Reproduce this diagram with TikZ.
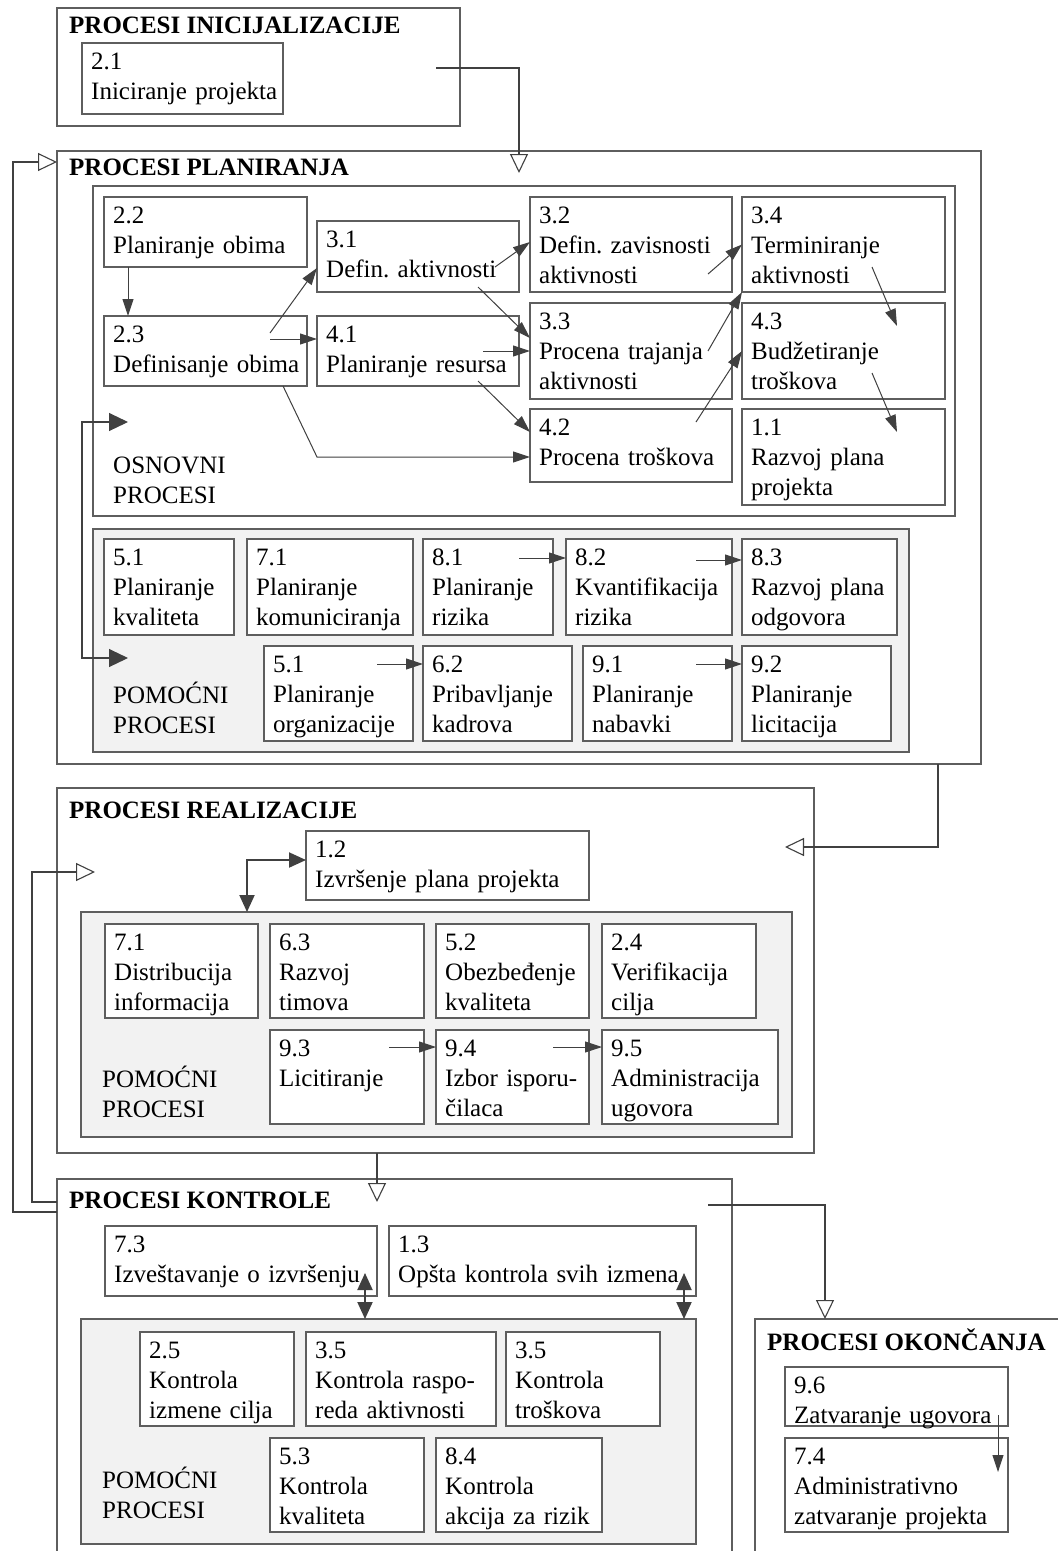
\documentclass[tikz,border=0pt]{standalone}
\usepackage{fontspec}
\setmainfont{Liberation Serif}
\frenchspacing
\usetikzlibrary{arrows.meta,fit}
\definecolor{edge}{HTML}{5E5E5E}
\definecolor{wire}{HTML}{404040}
\definecolor{shade}{HTML}{F2F2F2}
% rectangle node spanning two corners: style, name, x1, y1, x2, y2
\newcommand\boxat[6]{\path (#3,#4) coordinate (#2-nw) (#5,#6) coordinate (#2-se);
  \node[#1,fit=(#2-nw)(#2-se)] (#2) {};}
% process box with its number and name: name, x1, y1, x2, y2, text
\newcommand\proc[6]{\boxat{pbox}{#1}{#2}{#3}{#4}{#5}
  \node[lbl] (#1-t) at ([shift={(9pt,-26pt)}]#1.north west) {#6};}
\begin{document}
\begin{tikzpicture}[x=1pt,y=-1pt,
  frame/.style={draw=edge,line width=1.2pt,fill=white,inner sep=0pt,outer sep=0pt},
  panel/.style={frame,fill=shade},
  pbox/.style={frame},
  lbl/.style={anchor=base west,inner sep=0pt,text width=300pt,align=left,
    font=\fontsize{25}{30}\selectfont},
  title/.style={anchor=base west,inner sep=0pt,font=\fontsize{25}{30}\selectfont\bfseries},
  conn/.style={draw=wire,line width=1pt,-{Triangle[length=17pt,width=11pt]}},
  bracket/.style={draw=wire,line width=1.1pt,
    {Triangle[length=19pt,width=18pt]}-{Triangle[length=19pt,width=18pt]}},
  dbl/.style={draw=wire,line width=2pt,
    {Triangle[length=17pt,width=15pt]}-{Triangle[length=17pt,width=15pt]}},
  flow/.style={draw=wire,line width=1.1pt,-{Triangle[open,length=19pt,width=18pt]}},
]
\useasboundingbox (0,0) rectangle (1058,1551);
\clip (0,0) rectangle (1058,1551);

% ---------------- initiation ----------------
\boxat{frame}{init}{57}{8}{460}{126}
\node[title] (init-h) at (69,33) {PROCESI INICIJALIZACIJE};
\proc{p21}{82}{43}{283}{114}{2.1\\Iniciranje projekta}

% ---------------- planning ----------------
\boxat{frame}{plan}{57}{151}{981}{764}
\node[title] (plan-h) at (69,175) {PROCESI PLANIRANJA};
\boxat{frame}{core}{93}{186}{955}{516}
\boxat{panel}{aux}{93}{529}{909}{752}

\proc{p22}{104}{197}{307}{267}{2.2\\Planiranje obima}
\proc{p23}{104}{316}{307}{386}{2.3\\Definisanje obima}
\proc{p31}{317}{221}{519}{292}{3.1\\Defin. aktivnosti}
\proc{p41}{317}{316}{519}{386}{4.1\\Planiranje resursa}
\proc{p32}{530}{197}{732}{292}{3.2\\Defin. zavisnosti\\aktivnosti}
\proc{p33}{530}{303}{732}{399}{3.3\\Procena trajanja\\aktivnosti}
\proc{p42}{530}{409}{732}{482}{4.2\\Procena troškova}
\proc{p34}{742}{197}{945}{292}{3.4\\Terminiranje\\aktivnosti}
\proc{p43}{742}{303}{945}{399}{4.3\\Budžetiranje\\troškova}
\proc{p11}{742}{409}{945}{505}{1.1\\Razvoj plana\\projekta}
\node[lbl] (core-l) at (113,473) {OSNOVNI\\PROCESI};

\proc{q51}{104}{539}{234}{635}{5.1\\Planiranje\\kvaliteta}
\proc{q71}{247}{539}{413}{635}{7.1\\Planiranje\\komuniciranja}
\proc{q81}{423}{539}{553}{635}{8.1\\Planiranje\\rizika}
\proc{q82}{566}{539}{732}{635}{8.2\\Kvantifikacija\\rizika}
\proc{q83}{742}{539}{897}{635}{8.3\\Razvoj plana\\odgovora}
\proc{q51o}{264}{646}{413}{741}{5.1\\Planiranje\\organizacije}
\proc{q62}{423}{646}{572}{741}{6.2\\Pribavljanje\\kadrova}
\proc{q91}{583}{646}{732}{741}{9.1\\Planiranje\\nabavki}
\proc{q92}{742}{646}{891}{741}{9.2\\Planiranje\\licitacija}
\node[lbl] (aux-l) at (113,703) {POMOĆNI\\PROCESI};

% core process links
\draw[conn] ([xshift=24pt]p22.south west) -- ([xshift=24pt]p23.north west);
\draw[conn] ([shift={(-37pt,18pt)}]p23.east) -- ([yshift=-11.5pt]p31.west);
\draw[conn] ([shift={(-37pt,12pt)}]p23.east) -- ([yshift=12pt]p41.west);
\coordinate (k42) at ([yshift=-11.5pt]p42.west);
\draw[conn] ([xshift=-24pt]p23.south east) -- (k42 -| p41.west) -- (k42);
\draw[conn] ([shift={(-24pt,-10.5pt)}]p31.east) -- ([yshift=2.5pt]p32.west);
\draw[conn] ([shift={(-41pt,5pt)}]p31.south east) -- ([yshift=13pt]p33.west);
\draw[conn] ([xshift=-36pt]p41.east) -- (p33.west);
\draw[conn] ([shift={(-41pt,5pt)}]p41.south east) -- ([yshift=13.5pt]p42.west);
\draw[conn] ([shift={(-24pt,-29.5pt)}]p32.east) -- (p34.west);
\draw[conn] ([xshift=-24pt]p33.east) -- (p34.south west);
\draw[conn] ([shift={(-36pt,23.5pt)}]p42.east) -- (p43.west);
\draw[conn] ([shift={(-73pt,25pt)}]p34.south east) -- ([shift={(-48pt,-23pt)}]p43.north east);
\draw[conn] ([shift={(-73pt,26pt)}]p43.south east) -- ([shift={(-48pt,-23pt)}]p11.north east);

% auxiliary process links
\draw[conn] ([shift={(-34pt,29pt)}]q81.east) -- ([yshift=29pt]q82.west);
\draw[conn] ([shift={(-36pt,27pt)}]q82.east) -- ([yshift=27pt]q83.west);
\draw[conn] ([shift={(-36pt,29.5pt)}]q51o.east) -- ([yshift=29.5pt]q62.west);
\draw[conn] ([shift={(-36pt,29.5pt)}]q91.east) -- ([yshift=29.5pt]q92.west);

% bracket feeding both groups
\coordinate (core-in) at (128,422);
\coordinate (aux-in) at (128,658);
\draw[bracket] (core-in) -- (82,422) -- (82,658) -- (aux-in);

% ---------------- execution ----------------
\boxat{frame}{real}{57}{788}{814}{1153}
\node[title] (real-h) at (69,818) {PROCESI REALIZACIJE};
\proc{r12}{306}{831}{589}{900}{1.2\\Izvršenje plana projekta}
\boxat{panel}{raux}{81}{912}{792}{1137}
\proc{r71}{105}{924}{258}{1018}{7.1\\Distribucija\\informacija}
\proc{r63}{270}{924}{424}{1018}{6.3\\Razvoj\\timova}
\proc{r52}{436}{924}{589}{1018}{5.2\\Obezbeđenje\\kvaliteta}
\proc{r24}{602}{924}{756}{1018}{2.4\\Verifikacija\\cilja}
\proc{r93}{270}{1030}{424}{1124}{9.3\\Licitiranje}
\proc{r94}{436}{1030}{589}{1124}{9.4\\Izbor isporu-\\čilaca}
\proc{r95}{602}{1030}{778}{1124}{9.5\\Administracija\\ugovora}
\node[lbl] (raux-l) at (102,1087) {POMOĆNI\\PROCESI};
\coordinate (k12) at ([yshift=5.5pt]r12.west);
\coordinate (kx) at ([xshift=166pt]raux.north west);
\draw[dbl] (k12) -- (k12 -| kx) -- (kx);
\draw[conn] ([shift={(-35pt,30pt)}]r93.east) -- ([yshift=30pt]r94.west);
\draw[conn] ([shift={(-36pt,30pt)}]r94.east) -- ([yshift=30pt]r95.west);

% ---------------- control ----------------
\boxat{frame}{ctrl}{57}{1179}{732}{1600}
\node[title] (ctrl-h) at (69,1208) {PROCESI KONTROLE};
\proc{c73}{105}{1226}{377}{1296}{7.3\\Izveštavanje o izvršenju}
\proc{c13}{389}{1226}{696}{1296}{1.3\\Opšta kontrola svih izmena}
\boxat{panel}{caux}{81}{1319}{696}{1544}
\proc{c25}{140}{1332}{294}{1426}{2.5\\Kontrola\\izmene cilja}
\proc{c35a}{306}{1332}{496}{1426}{3.5\\Kontrola raspo-\\reda aktivnosti}
\proc{c35b}{506}{1332}{660}{1426}{3.5\\Kontrola\\troškova}
\proc{c53}{270}{1438}{424}{1532}{5.3\\Kontrola\\kvaliteta}
\proc{c84}{436}{1438}{602}{1532}{8.4\\Kontrola\\akcija za rizik}
\node[lbl] (caux-l) at (102,1488) {POMOĆNI\\PROCESI};
\draw[dbl] ([shift={(-12pt,23pt)}]c73.south east) -- ([xshift=284pt]caux.north west);
\draw[dbl] ([shift={(-12pt,23pt)}]c13.south east) -- ([xshift=603pt]caux.north west);

% ---------------- closing ----------------
\boxat{frame}{close}{755}{1319}{1090}{1600}
\node[title] (close-h) at (767,1350) {PROCESI OKONČANJA};
\proc{o96}{785}{1367}{1008}{1426}{9.6\\Zatvaranje ugovora}
\proc{o74}{785}{1438}{1008}{1532}{7.4\\Administrativno\\zatvaranje projekta}
\draw[conn] ([shift={(-10pt,11pt)}]o96.south east) -- ([shift={(-10pt,-34pt)}]o74.north east);

% ---------------- flow between phases ----------------
\coordinate (init-out) at (436,68);
\coordinate (plan-in) at (519,173);
\draw[flow] (init-out) -| (plan-in);
\coordinate (real-in) at (785,847);
\draw[flow] ([xshift=-43pt]plan.south east) |- (real-in);
\coordinate (ctrl-in) at (377,1202);
\draw[flow] ([xshift=320pt]real.south west) -- (ctrl-in);
\coordinate (ctrl-out) at (708,1205);
\draw[flow] (ctrl-out) -| ([xshift=70pt]close.north west);
% feedback from control to planning and execution
\coordinate (plan-fb) at (57,162);
\coordinate (real-fb) at (95,872);
\draw[flow] ([yshift=-33pt]ctrl.north west) -- (13,1212) -- (13,162) -- (plan-fb);
\draw[flow] ([yshift=-23pt]ctrl.north west) -- (32,1202) -- (32,872) -- (real-fb);
\end{tikzpicture}
\end{document}
